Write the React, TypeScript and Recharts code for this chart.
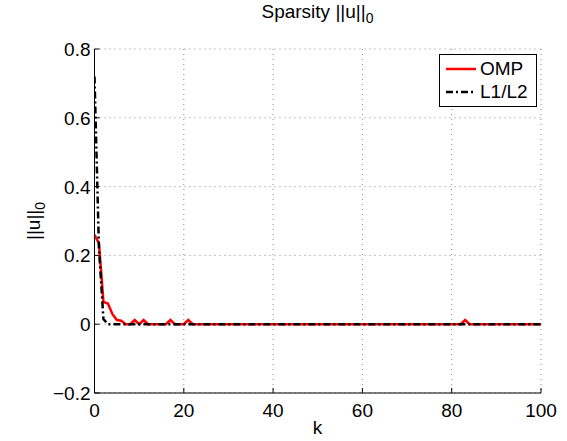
import { LineChart, Line, XAxis, YAxis, CartesianGrid, Legend } from "recharts";

// k = 0..100
const kValues = [
  0, 1, 2, 3, 4, 5, 6, 7, 8, 9,
  10, 11, 12, 13, 14, 15, 16, 17, 18, 19,
  20, 21, 22, 23, 24, 25, 26, 27, 28, 29,
  30, 31, 32, 33, 34, 35, 36, 37, 38, 39,
  40, 41, 42, 43, 44, 45, 46, 47, 48, 49,
  50, 51, 52, 53, 54, 55, 56, 57, 58, 59,
  60, 61, 62, 63, 64, 65, 66, 67, 68, 69,
  70, 71, 72, 73, 74, 75, 76, 77, 78, 79,
  80, 81, 82, 83, 84, 85, 86, 87, 88, 89,
  90, 91, 92, 93, 94, 95, 96, 97, 98, 99,
  100,
];

const ompValues = [
  0.26, 0.235, 0.065, 0.06, 0.03, 0.012, 0.01, 0, 0, 0.012,
  0, 0.012, 0, 0, 0, 0, 0, 0.012, 0, 0,
  0, 0.012, 0, 0, 0, 0, 0, 0, 0, 0,
  0, 0, 0, 0, 0, 0, 0, 0, 0, 0,
  0, 0, 0, 0, 0, 0, 0, 0, 0, 0,
  0, 0, 0, 0, 0, 0, 0, 0, 0, 0,
  0, 0, 0, 0, 0, 0, 0, 0, 0, 0,
  0, 0, 0, 0, 0, 0, 0, 0, 0, 0,
  0, 0, 0, 0.012, 0, 0, 0, 0, 0, 0,
  0, 0, 0, 0, 0, 0, 0, 0, 0, 0,
  0,
];

const l1l2Values = [
  0.72, 0.22, 0.015, 0, 0, 0, 0, 0, 0, 0,
  0, 0, 0, 0, 0, 0, 0, 0, 0, 0,
  0, 0, 0, 0, 0, 0, 0, 0, 0, 0,
  0, 0, 0, 0, 0, 0, 0, 0, 0, 0,
  0, 0, 0, 0, 0, 0, 0, 0, 0, 0,
  0, 0, 0, 0, 0, 0, 0, 0, 0, 0,
  0, 0, 0, 0, 0, 0, 0, 0, 0, 0,
  0, 0, 0, 0, 0, 0, 0, 0, 0, 0,
  0, 0, 0, 0, 0, 0, 0, 0, 0, 0,
  0, 0, 0, 0, 0, 0, 0, 0, 0, 0,
  0,
];

const xTicks = [0, 20, 40, 60, 80, 100];
const yTicks = [-0.2, 0, 0.2, 0.4, 0.6, 0.8];

const rows = kValues.map((k, i) => ({ k, omp: ompValues[i], l1l2: l1l2Values[i] }));

const FONT = '"Liberation Sans", Arial, Helvetica, sans-serif';
const FS = 19;
const TICK = 5;

const fmtY = (v: number) => (v < 0 ? "\u2212" + Math.abs(v).toFixed(1) : v === 0 ? "0" : v.toFixed(1));

function BottomTick({ x, y, payload }: any) {
  return (
    <g>
      <line x1={x} x2={x} y1={y} y2={y - TICK} stroke="#000" />
      <text x={x} y={y + 24} textAnchor="middle" fontSize={FS} fontFamily={FONT} fill="#000">
        {payload.value}
      </text>
    </g>
  );
}

function TopTick({ x, y }: any) {
  return <line x1={x} x2={x} y1={y} y2={y + TICK} stroke="#000" />;
}

function LeftTick({ x, y, payload }: any) {
  return (
    <g>
      <line x1={x} x2={x + TICK} y1={y} y2={y} stroke="#000" />
      <text x={x - 4} y={y + 7} textAnchor="end" fontSize={FS} fontFamily={FONT} fill="#000">
        {fmtY(payload.value)}
      </text>
    </g>
  );
}

function RightTick({ x, y }: any) {
  return <line x1={x} x2={x - TICK} y1={y} y2={y} stroke="#000" />;
}

function LegendBox() {
  return (
    <div
      style={{
        width: 96,
        height: 51,
        border: "1px solid #000",
        background: "#fff",
        fontFamily: FONT,
        fontSize: FS,
        color: "#000",
      }}
    >
      <div style={{ display: "flex", alignItems: "center", height: 24, marginTop: 2 }}>
        <svg width={40} height={10} style={{ marginLeft: 6 }}>
          <line x1={0} x2={30} y1={5} y2={5} stroke="#ff0000" strokeWidth={2.5} />
        </svg>
        <span style={{ marginLeft: -6 }}>OMP</span>
      </div>
      <div style={{ display: "flex", alignItems: "center", height: 22 }}>
        <svg width={40} height={10} style={{ marginLeft: 6 }}>
          <line x1={0} x2={30} y1={5} y2={5} stroke="#000" strokeWidth={2.5} strokeDasharray="7 3 2 3" />
        </svg>
        <span style={{ marginLeft: -6 }}>L1/L2</span>
      </div>
    </div>
  );
}

export default function App() {
  return (
    <div style={{ position: "relative", width: 567, height: 441, background: "#fff", fontFamily: FONT }}>
      <style>{`body{margin:0}`}</style>
      <div
        style={{
          position: "absolute",
          left: 0,
          width: 635,
          top: 1,
          textAlign: "center",
          fontSize: FS,
          whiteSpace: "nowrap",
          color: "#000",
        }}
      >
        Sparsity ||u||<sub style={{ fontSize: 14, verticalAlign: -5 }}>0</sub>
      </div>
      <LineChart width={567} height={441} data={rows} margin={{ top: 49, right: 26, bottom: 0, left: 0 }}>
        <CartesianGrid stroke="#888" strokeDasharray="1 4" />
        <XAxis
          dataKey="k"
          type="number"
          domain={[0, 100]}
          ticks={xTicks}
          height={48}
          tickSize={0}
          tickMargin={0}
          tick={<BottomTick />}
          axisLine={{ stroke: "#000" }}
          tickLine={false}
          interval={0}
          allowDataOverflow
        />
        <XAxis
          xAxisId="top"
          orientation="top"
          dataKey="k"
          type="number"
          domain={[0, 100]}
          ticks={xTicks}
          height={0}
          tickSize={0}
          tickMargin={0}
          tick={<TopTick />}
          axisLine={{ stroke: "#000" }}
          tickLine={false}
          interval={0}
        />
        <YAxis
          type="number"
          domain={[-0.2, 0.8]}
          ticks={yTicks}
          width={94.5}
          tickSize={0}
          tickMargin={0}
          tick={<LeftTick />}
          axisLine={{ stroke: "#000" }}
          tickLine={false}
          interval={0}
          allowDataOverflow
        />
        <YAxis
          yAxisId="right"
          orientation="right"
          type="number"
          domain={[-0.2, 0.8]}
          ticks={yTicks}
          width={0}
          tickSize={0}
          tickMargin={0}
          tick={<RightTick />}
          axisLine={{ stroke: "#000" }}
          tickLine={false}
          interval={0}
        />
        <Legend
          layout="vertical"
          align="center"
          verticalAlign="middle"
          content={<LegendBox />}
          wrapperStyle={{ left: 439, top: 54, width: 98, height: 53 }}
        />
        <Line
          type="linear"
          dataKey="omp"
          name="OMP"
          stroke="#ff0000"
          strokeWidth={2.5}
          dot={false}
          isAnimationActive={false}
        />
        <Line
          type="linear"
          dataKey="l1l2"
          name="L1/L2"
          stroke="#000"
          strokeWidth={2.5}
          strokeDasharray="7 3 2 3"
          dot={false}
          isAnimationActive={false}
        />
      </LineChart>
      <div
        style={{
          position: "absolute",
          left: 0,
          width: 635,
          top: 417,
          textAlign: "center",
          fontSize: FS,
          color: "#000",
        }}
      >
        k
      </div>
      <div
        style={{
          position: "absolute",
          left: 35,
          top: 221,
          transform: "translate(-50%, -50%) rotate(-90deg)",
          fontSize: FS,
          whiteSpace: "nowrap",
          color: "#000",
        }}
      >
        ||u||<sub style={{ fontSize: 14, verticalAlign: -5 }}>0</sub>
      </div>
    </div>
  );
}
